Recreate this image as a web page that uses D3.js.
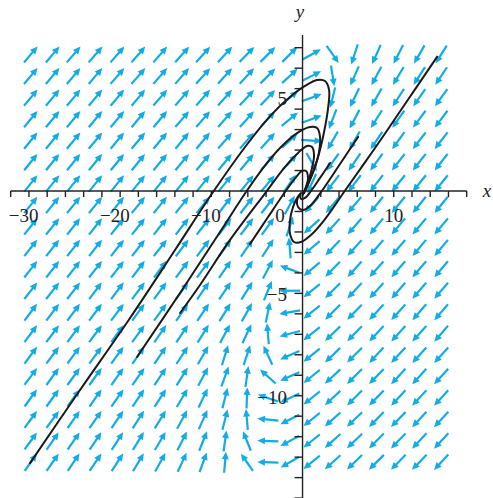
<!DOCTYPE html>
<html><head><meta charset="utf-8">
<script src="https://cdn.jsdelivr.net/npm/d3@7"></script>
<style>html,body{margin:0;padding:0;background:#fff}svg{display:block}</style>
</head><body>
<script>
// ---- data ----
const gridX = [-29.8,-27.4,-25.1,-22.7,-20.3,-18.0,-15.6,-13.2,-10.9,-8.5,-6.1,-3.8,-1.4,1.0,3.3,5.7,8.1,10.5,12.8,15.2];
const gridY = [6.67,5.62,4.56,3.51,2.46,1.41,0.37,-0.68,-1.73,-2.78,-3.82,-4.87,-5.92,-6.97,-8.02,-9.06,-10.11,-11.16,-12.21,-13.25];
// arrow direction (degrees, counter-clockwise from +x on the page), one row per gridY
const angles = [
 [50,50,49,49,49,49,49,48,48,47,46,45,45,29,305,252,246,243,240,238],
 [50,50,50,50,49,49,49,49,48,48,47,45,43,27,279,246,242,239,237,236],
 [50,50,50,50,50,50,49,49,49,48,47,46,40,20,256,244,240,237,235,234],
 [50,50,50,50,50,50,50,49,49,49,48,47,40,20,249,242,238,235,233,233],
 [51,50,50,50,50,50,50,50,50,49,49,48,42,356,240,240,236,234,232,232],
 [51,51,51,51,51,51,50,50,50,50,50,49,47,300,235,236,234,232,232,232],
 [51,51,51,51,51,51,51,51,51,51,51,50,55,245,232,233,232,231,231,231],
 [51,51,51,51,51,51,51,51,51,52,52,52,62,228,230,230,231,231,231,231],
 [51,51,52,52,52,52,52,52,52,53,53,54,72,222,228,229,230,230,230,230],
 [52,52,52,52,52,52,52,53,53,54,55,57,95,220,227,228,229,229,230,230],
 [52,52,52,52,52,53,53,53,54,55,56,62,160,220,226,228,228,229,229,230],
 [52,52,52,53,53,53,54,54,55,56,58,68,180,219,225,227,228,229,229,229],
 [53,53,53,53,53,54,54,55,56,58,61,78,190,219,225,226,227,228,229,229],
 [53,53,53,53,54,54,55,56,58,62,65,95,195,219,224,226,227,228,228,229],
 [53,53,54,54,54,55,56,57,60,73,72,115,204,219,224,225,227,227,228,228],
 [53,54,54,54,55,55,56,58,62,70,82,138,204,219,223,225,226,227,228,228],
 [54,54,54,55,55,56,57,59,64,76,88,161,205,219,223,225,226,227,227,228],
 [54,54,55,55,56,57,58,61,66,76,95,174,207,219,222,224,226,226,227,227],
 [54,55,55,56,57,58,59,63,68,82,112,178,208,219,222,224,225,226,227,227],
 [55,55,56,56,57,59,61,65,70,85,125,178,210,219,222,224,225,226,226,227]
];
// solution curves (x, y)
const curveA = [[-29.88,-13.29],[-24.40,-9.72],[-18.91,-6.20],[-13.98,-2.88],[-9.81,-0.05],[-6.30,2.15],[-3.56,3.66],[-1.37,4.59],[0.27,5.13],[1.59,5.42],[2.47,5.37],[2.91,4.93],[2.80,4.05],[2.36,2.88],[1.70,1.66],[0.93,0.68],[0.27,0.05],[0.0,-0.2]];
const curveB = [[-18.15,-8.11],[-13.43,-4.98],[-9.05,-2.00],[-6.20,-0.05],[-4.33,1.12],[-2.47,2.10],[-0.60,2.83],[0.82,3.13],[1.59,3.08],[1.92,2.64],[1.81,1.91],[1.37,1.17],[0.71,0.44],[0.16,-0.10]];
const curveC = [[-13.43,-5.96],[-11.24,-4.59],[-7.95,-2.39],[-4.00,-0.05],[-2.03,1.12],[-0.49,1.86],[0.49,2.20],[1.04,2.15],[1.26,1.76],[1.04,1.12],[0.60,0.44],[0.16,-0.10]];
const curveD = [[-5.76,-2.59],[-3.78,-1.27],[-1.92,-0.05],[-0.71,0.68],[-0.05,0.98],[0.38,0.98],[0.60,0.64],[0.38,0.20],[0.05,-0.15]];
const curveE = [[14.75,6.55],[11.24,4.25],[7.95,2.10],[4.55,-0.05],[2.47,-1.37],[1.04,-2.10],[-0.16,-2.49],[-0.93,-2.49],[-1.37,-2.10],[-1.37,-1.42],[-1.04,-0.78],[-0.60,-0.34],[-0.16,-0.10]];
const curveF = [[6.09,2.64],[4.11,1.32],[2.03,-0.05],[0.93,-0.68],[0.05,-0.93],[-0.49,-0.78],[-0.60,-0.44],[-0.27,-0.15]];
const curveG = [[3.02,1.37],[1.92,0.64],[0.93,0.00],[0.27,-0.34],[-0.16,-0.39],[-0.27,-0.20]];
const curves = [curveA, curveB, curveC, curveD, curveE, curveF, curveG];
const xTickValues = [-32,-30,-28,-26,-24,-22,-20,-18,-16,-14,-12,-10,-8,-6,-4,-2,0,2,4,6,8,10,12,14,16,18];
const yTickValues = [-15,-14,-13,-12,-11,-10,-9,-8,-7,-6,-5,-4,-3,-2,-1,1,2,3,4,5,6,7];
const xTickLabels = [-30,-20,-10,10];
const yTickLabels = [5,-5,-10];

// ---- drawing ----
const W = 493, H = 498;
const svg = d3.select("body").append("svg").attr("width", W).attr("height", H);
const x = d3.scaleLinear().domain([-32, 18]).range([10.7, 466.7]);
const y = d3.scaleLinear().domain([-15, 7.62]).range([498.1, 35]);
const blue = "#12ace6";
const font = "'Liberation Serif','Times New Roman',serif";

// arrows
const L = 21, hl = 7.5, hw = 7;
const ag = svg.append("g");
gridY.forEach((gy, j) => gridX.forEach((gx, i) => {
  const a = angles[j][i] * Math.PI / 180;
  const dx = Math.cos(a), dy = -Math.sin(a);
  const cx = x(gx), cy = y(gy);
  const tx = cx - dx * L / 2, ty = cy - dy * L / 2;
  const hx = cx + dx * L / 2, hy = cy + dy * L / 2;
  const bx = hx - dx * hl, by = hy - dy * hl;
  ag.append("line").attr("x1", tx).attr("y1", ty).attr("x2", bx + dx).attr("y2", by + dy)
    .attr("stroke", blue).attr("stroke-width", 2.2);
  ag.append("path")
    .attr("d", `M${hx},${hy}L${bx - dy * hw / 2},${by + dx * hw / 2}L${bx + dy * hw / 2},${by - dx * hw / 2}Z`)
    .attr("fill", blue);
}));

// axes
const axg = svg.append("g").attr("stroke", "#222").attr("stroke-width", 1.4);
axg.append("line").attr("x1", x(-32)).attr("x2", x(18)).attr("y1", y(0)).attr("y2", y(0));
axg.append("line").attr("x1", x(0)).attr("x2", x(0)).attr("y1", y(-15)).attr("y2", y(7.62));
xTickValues.forEach(v => axg.append("line").attr("x1", x(v)).attr("x2", x(v)).attr("y1", y(0)).attr("y2", y(0) + 6));
yTickValues.forEach(v => axg.append("line").attr("x1", x(0) - 8).attr("x2", x(0)).attr("y1", y(v)).attr("y2", y(v)));

// curves
const line = d3.line().x(d => x(d[0])).y(d => y(d[1])).curve(d3.curveCatmullRom.alpha(0.5));
svg.append("g").selectAll("path").data(curves).join("path")
  .attr("d", line).attr("fill", "none").attr("stroke", "#1a1a1a").attr("stroke-width", 2)
  .attr("stroke-linejoin", "round").attr("stroke-linecap", "round");

// labels
const tg = svg.append("g").attr("font-family", font).attr("font-size", 19).attr("fill", "#222");
xTickLabels.forEach(v => {
  const digits = String(Math.abs(v));
  const t = tg.append("text").attr("x", x(v)).attr("y", 222).attr("text-anchor", "middle").text(digits);
  if (v < 0) {
    const w = t.node().getComputedTextLength();
    tg.append("text").attr("x", x(v) - w / 2).attr("y", 222).attr("text-anchor", "end").text("\u2212");
  }
});
tg.append("text").attr("x", 280).attr("y", 222).attr("text-anchor", "middle").text("0");
yTickLabels.forEach(v => {
  tg.append("text").attr("x", 287).attr("y", v > 0 ? y(v) + 16 : y(v) + 8).attr("text-anchor", "end")
    .text(v < 0 ? "\u2212" + Math.abs(v) : String(v));
});
tg.append("text").attr("x", 487).attr("y", 197).attr("text-anchor", "middle").attr("font-style", "italic").text("x");
tg.append("text").attr("x", 300).attr("y", 18).attr("text-anchor", "middle").attr("font-style", "italic").text("y");
</script>
</body></html>
